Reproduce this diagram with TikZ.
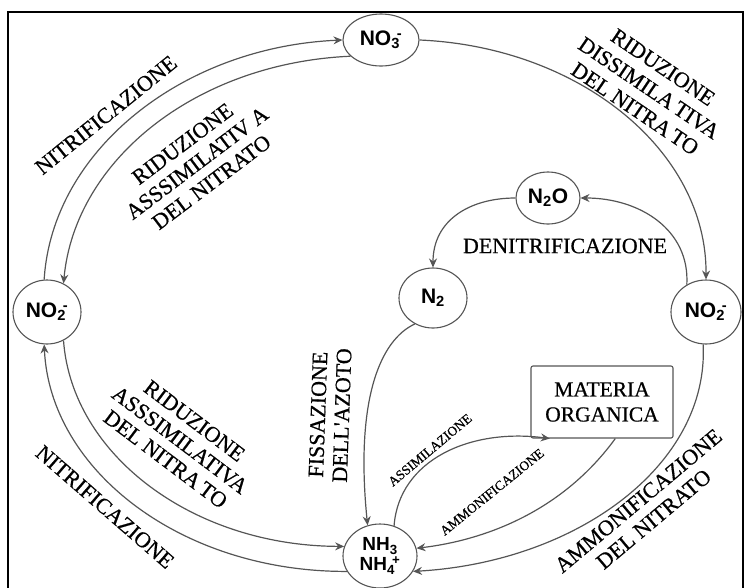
\documentclass[tikz,border=0pt]{standalone}
\usepackage{fontspec}
\newfontfamily\speciesfont{Liberation Sans}
\newfontfamily\labelfont{Liberation Serif}[FakeBold=0.6]
\usetikzlibrary{arrows.meta,shapes.geometric}
\definecolor{linegray}{HTML}{555555}
\newcommand\ionsub[2]{\textsubscript{#1}\kern-0.15em\textsuperscript{#2}}

\begin{document}
\begin{tikzpicture}[x=1pt,y=-1pt,
  species/.style={ellipse, draw=linegray, line width=1.1pt, inner sep=0pt,
    font=\speciesfont\bfseries\fontsize{21}{22}\selectfont},
  flow/.style={draw=linegray, line width=1.2pt,
    -{Stealth[length=9pt,width=8pt,inset=3pt]}},
  biglabel/.style={font=\labelfont\fontsize{22}{24}\selectfont, align=center, inner sep=0pt},
  smalllabel/.style={font=\labelfont\fontsize{13.5}{15}\selectfont, inner sep=0pt},
  boxstyle/.style={draw=linegray, line width=1.1pt, rounded corners=2pt,
    minimum width=142pt, minimum height=72pt, align=center,
    font=\labelfont\fontsize{21.5}{25}\selectfont}]

\useasboundingbox (0,0) rectangle (745,587);
\draw[line width=1.6pt] (8,12) rectangle (743,592);

% species
\node[species, minimum width=76pt, minimum height=52pt] (no3) at (381,40) {NO\ionsub{3}{-}};
\node[species, minimum width=68pt, minimum height=64pt] (no2l) at (47,312) {NO\ionsub{2}{-}};
\node[species, minimum width=64pt, minimum height=52pt] (n2o) at (548,198) {N\textsubscript{2}O};
\node[species, minimum width=68pt, minimum height=60pt] (n2) at (433,298) {N\textsubscript{2}};
\node[species, minimum width=70pt, minimum height=64pt] (no2r) at (706,312) {NO\ionsub{2}{-}};
\node[species, minimum width=74pt, minimum height=64pt, align=center,
  font=\speciesfont\bfseries\fontsize{19}{20}\selectfont] (nh) at (380,556)
  {NH\textsubscript{3}\\NH\ionsub{4}{+}};
\node[boxstyle] (mo) at (602,402) {MATERIA\\ORGANICA};

% nitrate / nitrite branch, upper left
\draw[flow] (no2l.95) .. controls (52,151) and (182,47) .. (no3.west);
\draw[flow] (no3.208) .. controls (196,63) and (75,160) .. (no2l.60);

% dissimilative reduction and denitrification
\draw[flow] (no3.east) .. controls (580,47) and (707,151) .. (no2r.north);
\draw[flow] (no2r.125) .. controls (690,230) and (640,198) .. (n2o.east);
\draw[flow] (n2o.west) .. controls (470,198) and (433,220) .. (n2.north);

% nitrogen fixation
\draw[flow] (n2.235) .. controls (380,340) and (355,400) .. (nh.112);

% lower left branch
\draw[flow] (nh.205) .. controls (181,572) and (50,470) .. (no2l.265);
\draw[flow] (no2l.300) .. controls (72,455) and (193,546) .. (nh.165);

% nitrate ammonification
\draw[flow] (no2r.265) .. controls (709,465) and (577,562) .. (nh.335);

% organic matter loop
\draw[flow] (nh.65) .. controls (399,460) and (470,428) .. (mo.215);
\draw[flow] (mo.290) .. controls (556,520) and (470,542) .. (nh.12);

% process labels
\node[biglabel, rotate=39] (l1) at (106,115) {NITRIFICAZIONE};
\node[biglabel, rotate=37] (l2) at (197,163) {RIDUZIONE\\ASSSIMILATIV A\\DEL NITRATO};
\node[biglabel, rotate=-34, font=\labelfont\fontsize{22}{25}\selectfont] (l3) at (649,88)
  {RIDUZIONE\\DISSIMILA\,TIVA\\DEL NITRA\,TO};
\node[biglabel] (l4) at (565,246) {DENITRIFICAZIONE};
\node[biglabel, rotate=88] (l5) at (330,415) {FISSAZIONE\\DELL'AZOTO};
\node[biglabel, rotate=-41] (l6) at (105,507) {NITRIFICAZIONE};
\node[biglabel, rotate=-37] (l7) at (180,440) {RIDUZIONE\\ASSSIMILATIVA\\DEL NITRA\,TO};
\node[biglabel, rotate=40] (l8) at (646,510) {AMMONIFICAZIONE\\DEL NITRATO};
\node[smalllabel, rotate=40] (l9) at (430,450) {ASSIMILAZIONE};
\node[smalllabel, rotate=39] (l10) at (492,492) {AMMONIFICAZIONE};
\end{tikzpicture}
\end{document}
